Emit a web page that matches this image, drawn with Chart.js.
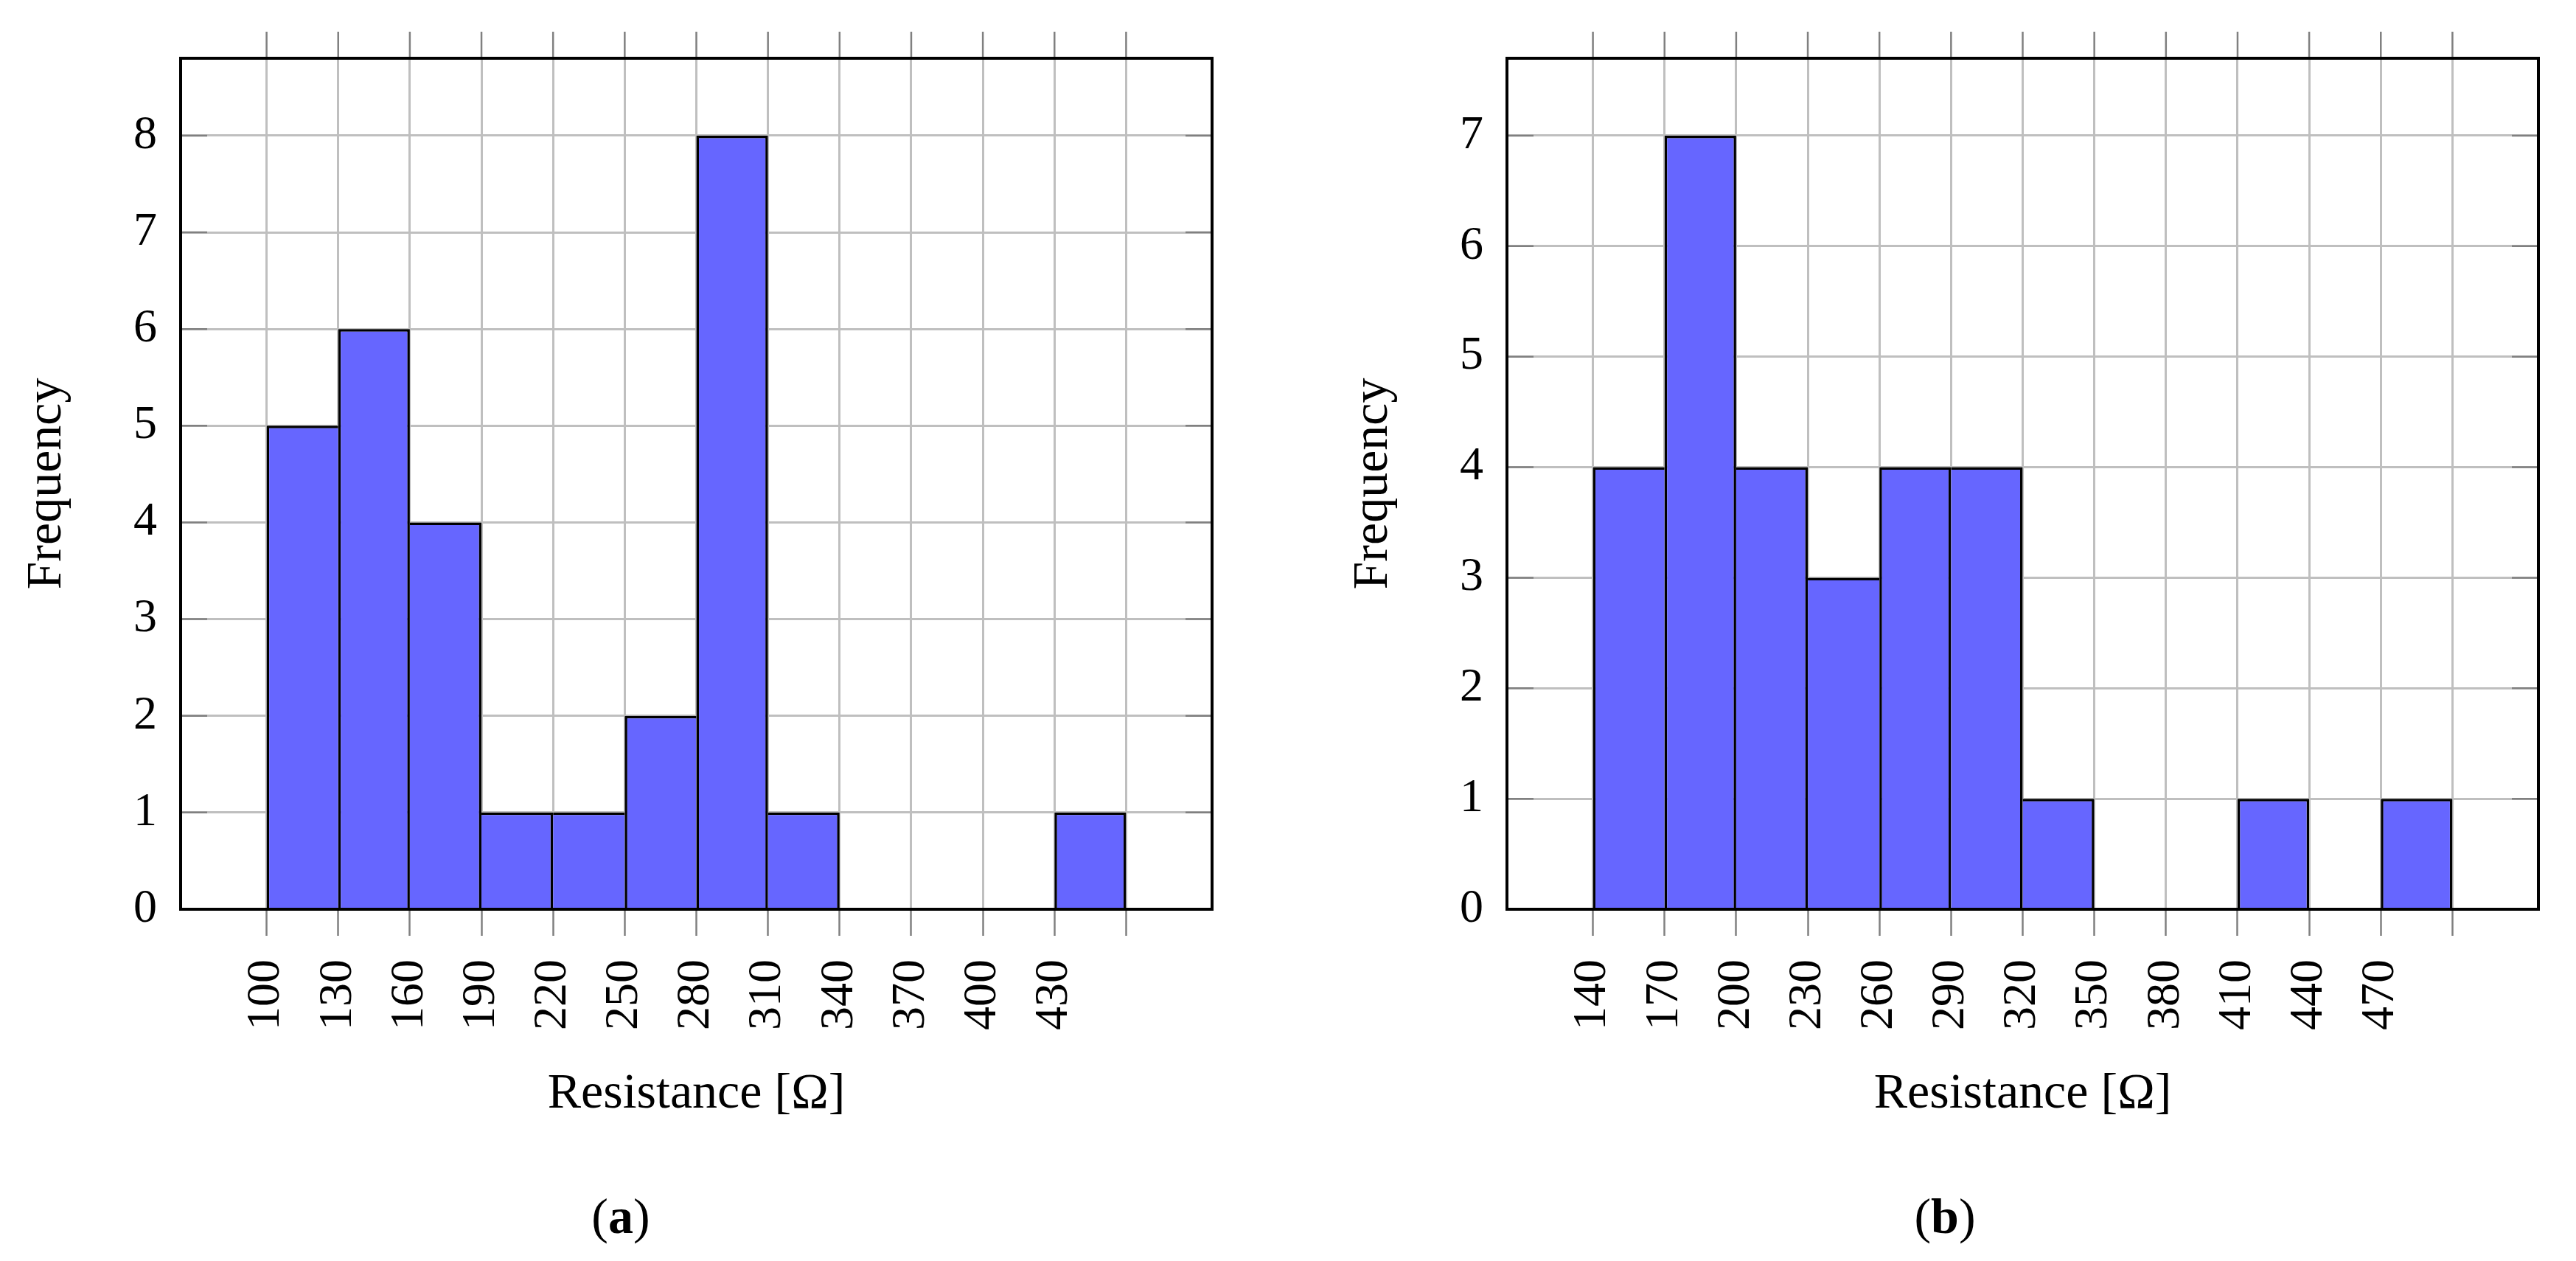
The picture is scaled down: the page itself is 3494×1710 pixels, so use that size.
<!DOCTYPE html>
<html>
<head>
<meta charset="utf-8">
<script src="https://cdn.jsdelivr.net/npm/chart.js@4.4.1/dist/chart.umd.min.js"></script>
<style>
    html, body { margin: 0; padding: 0; background: #fff; }
    body { width: 3494px; height: 1710px; position: relative; overflow: hidden; }
    canvas { position: absolute; top: 0; }
    #chart-a { left: 0; }
    #chart-b { left: 1799px; }
    .caption {
        position: absolute;
        top: 1615px;
        width: 300px;
        text-align: center;
        font-family: 'Liberation Serif', serif;
        font-size: 68px;
        line-height: 68px;
        color: #000;
    }
</style>
</head>
<body>
<canvas id="chart-a" width="1695" height="1710"></canvas>
<canvas id="chart-b" width="1695" height="1710"></canvas>
<div class="caption" style="left: 692px;">(<b>a</b>)</div>
<div class="caption" style="left: 2488px;">(<b>b</b>)</div>

<script>
// Histogram data: bin starts, counts, ticks.
const BIN_WIDTH = 30;

const binStartsA = [100, 130, 160, 190, 220, 250, 280, 310, 340, 370, 400, 430];
const countsA = [5, 6, 4, 1, 1, 2, 8, 1, 0, 0, 0, 1];
const tickValuesA = [100, 130, 160, 190, 220, 250, 280, 310, 340, 370, 400, 430, 460];
const tickLabelsA = ['100', '130', '160', '190', '220', '250', '280', '310', '340', '370', '400', '430'];
const xRangeA = [64, 496];
const yTicksA = [0, 1, 2, 3, 4, 5, 6, 7, 8];
const yMaxA = 8.8;

const binStartsB = [140, 170, 200, 230, 260, 290, 320, 350, 380, 410, 440, 470];
const countsB = [4, 7, 4, 3, 4, 4, 1, 0, 0, 1, 0, 1];
const tickValuesB = [140, 170, 200, 230, 260, 290, 320, 350, 380, 410, 440, 470, 500];
const tickLabelsB = ['140', '170', '200', '230', '260', '290', '320', '350', '380', '410', '440', '470'];
const xRangeB = [104, 536];
const yTicksB = [0, 1, 2, 3, 4, 5, 6, 7];
const yMaxB = 7.7;

const X_TITLE = 'Resistance [Ω]';
const Y_TITLE = 'Frequency';

const FONT = "'Liberation Serif', serif";
const BAR_FILL = '#6666ff';
const GRID = '#bfbfbf';
const TICK = '#808080';
const TICK_LEN = 36;
const EDGE = 3.5;

// frame, ticks on top and inward ticks on both y sides (pgfplots look)
const framePlugin = {
    id: 'frame',
    afterDatasetsDraw(chart) {
        const { ctx, chartArea: a, scales: { x, y } } = chart;
        ctx.save();
        ctx.strokeStyle = TICK;
        ctx.lineWidth = 2.5;
        ctx.beginPath();
        x.ticks.forEach(t => {
            const px = x.getPixelForValue(t.value);
            ctx.moveTo(px, a.top);
            ctx.lineTo(px, a.top - TICK_LEN);
        });
        y.ticks.forEach(t => {
            const py = y.getPixelForValue(t.value);
            ctx.moveTo(a.left, py);
            ctx.lineTo(a.left + TICK_LEN, py);
            ctx.moveTo(a.right, py);
            ctx.lineTo(a.right - TICK_LEN, py);
        });
        ctx.stroke();
        ctx.strokeStyle = '#000';
        ctx.lineWidth = 4;
        ctx.strokeRect(a.left, a.top, a.right - a.left, a.bottom - a.top);
        ctx.restore();
    }
};

// shared edges drawn once, by the taller neighbour
function edgeWidths(counts) {
    return ctx => {
        const i = ctx.dataIndex;
        const v = counts[i];
        if (!v) return 0;
        const prev = i > 0 ? counts[i - 1] : 0;
        const next = i < counts.length - 1 ? counts[i + 1] : 0;
        return {
            top: EDGE,
            bottom: 0,
            left: prev < v ? EDGE : 0,
            right: next <= v ? EDGE : 0
        };
    };
}

function makeChart(id, starts, counts, tickValues, tickLabels, xRange, yTicks, yMax) {
    const ctx = document.getElementById(id).getContext('2d');
    const points = starts.map((s, i) => ({ x: s + BIN_WIDTH / 2, y: counts[i] }));

    return new Chart(ctx, {
        type: 'bar',
        data: {
            datasets: [{
                data: points,
                backgroundColor: BAR_FILL,
                borderColor: '#000',
                borderWidth: edgeWidths(counts),
                borderSkipped: false,
                inflateAmount: 0,
                barPercentage: 1,
                categoryPercentage: 1
            }]
        },
        plugins: [framePlugin],
        options: {
            responsive: false,
            animation: false,
            devicePixelRatio: 1,
            layout: { padding: { top: 79, right: 51, bottom: 0, left: 0 } },
            plugins: {
                legend: { display: false },
                tooltip: { enabled: false }
            },
            scales: {
                x: {
                    type: 'linear',
                    offset: false,
                    min: xRange[0],
                    max: xRange[1],
                    afterBuildTicks: scale => {
                        scale.ticks = tickValues.map(v => ({ value: v }));
                    },
                    afterFit: scale => { scale.height = 477; },
                    ticks: {
                        autoSkip: false,
                        minRotation: 90,
                        maxRotation: 90,
                        padding: 32,
                        color: '#000',
                        font: { family: FONT, size: 64 },
                        callback: (value, index) => tickLabels[index] || ''
                    },
                    grid: {
                        offset: false,
                        color: GRID,
                        lineWidth: 3,
                        tickColor: TICK,
                        tickWidth: 2.5,
                        tickLength: TICK_LEN
                    },
                    border: { display: false },
                    title: {
                        display: true,
                        text: X_TITLE,
                        color: '#000',
                        font: { family: FONT, size: 68, lineHeight: 1 },
                        padding: { top: 0, bottom: 192 }
                    }
                },
                y: {
                    min: 0,
                    max: yMax,
                    afterBuildTicks: scale => {
                        scale.ticks = yTicks.map(v => ({ value: v }));
                    },
                    afterFit: scale => { scale.width = 245; },
                    ticks: {
                        padding: 32,
                        color: '#000',
                        font: { family: FONT, size: 64 },
                        callback: value => String(value)
                    },
                    grid: {
                        color: GRID,
                        lineWidth: 3,
                        drawTicks: false
                    },
                    border: { display: false },
                    title: {
                        display: true,
                        text: Y_TITLE,
                        color: '#000',
                        font: { family: FONT, size: 68, lineHeight: 1 },
                        padding: { top: 30, bottom: 0 }
                    }
                }
            }
        }
    });
}

makeChart('chart-a', binStartsA, countsA, tickValuesA, tickLabelsA, xRangeA, yTicksA, yMaxA);
makeChart('chart-b', binStartsB, countsB, tickValuesB, tickLabelsB, xRangeB, yTicksB, yMaxB);
</script>
</body>
</html>
